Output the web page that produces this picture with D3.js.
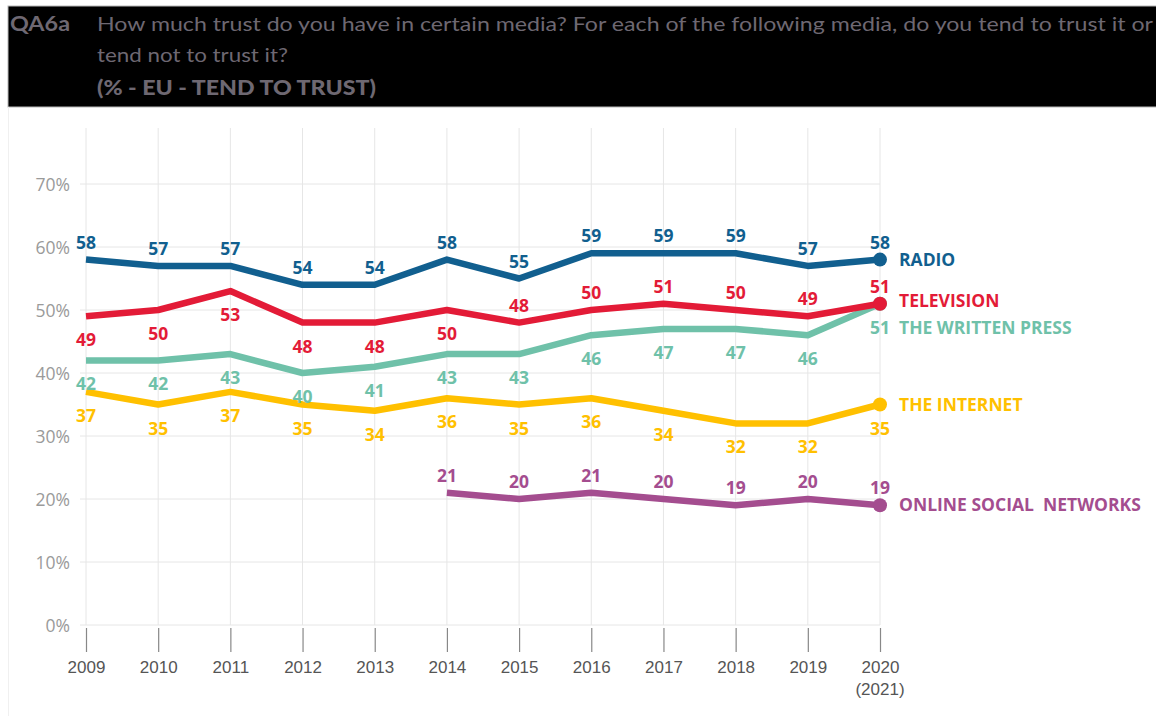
<!DOCTYPE html>
<html>
<head>
<meta charset="utf-8">
<script src="https://cdn.jsdelivr.net/npm/d3@7"></script>
<style>
  html, body { margin: 0; padding: 0; background: #fff; }
  svg { display: block; }
</style>
</head>
<body>
<svg id="chart" width="1156" height="716"></svg>
<script>
// Survey years on the x axis
const years = [2009, 2010, 2011, 2012, 2013, 2014, 2015, 2016, 2017, 2018, 2019, 2020];
const yearLabels = ["2009", "2010", "2011", "2012", "2013", "2014", "2015", "2016", "2017", "2018", "2019", "2020"];
const yTicks = [0, 10, 20, 30, 40, 50, 60, 70];

// % tend to trust, per medium (null = not asked that year)
const radio = [58, 57, 57, 54, 54, 58, 55, 59, 59, 59, 57, 58];
const television = [49, 50, 53, 48, 48, 50, 48, 50, 51, 50, 49, 51];
const writtenPress = [42, 42, 43, 40, 41, 43, 43, 46, 47, 47, 46, 51];
const internet = [37, 35, 37, 35, 34, 36, 35, 36, 34, 32, 32, 35];
const socialNetworks = [null, null, null, null, null, 21, 20, 21, 20, 19, 20, 19];

// Which side of the line each value label sits on ("a" above, "b" below)
const radioSide = ["a","a","a","a","a","a","a","a","a","a","a","a"];
const televisionSide = ["b","b","b","b","b","b","a","a","a","a","a","a"];
const pressSide = ["b","b","b","b","b","b","b","b","b","b","b","b"];
const internetSide = ["b","b","b","b","b","b","b","b","b","b","b","b"];
const socialSide = ["a","a","a","a","a","a","a","a","a","a","a","a"];

const series = [
  { name: "THE INTERNET", values: internet, side: internetSide, color: "#ffc000", nameDy: 6 },
  { name: "THE WRITTEN PRESS", values: writtenPress, side: pressSide, color: "#6fc1a9", nameDy: 30 },
  { name: "TELEVISION", values: television, side: televisionSide, color: "#e31b37", nameDy: 3 },
  { name: "RADIO", values: radio, side: radioSide, color: "#115f8f", nameDy: 6 },
  { name: "ONLINE SOCIAL  NETWORKS", values: socialNetworks, side: socialSide, color: "#a44d8f", nameDy: 6 }
];

const svg = d3.select("#chart");

// ---- Question header ----
svg.append("rect").attr("x", 8).attr("y", 6).attr("width", 1160).attr("height", 101)
  .attr("fill", "#000").attr("stroke", "#b8b8b8").attr("stroke-width", 1);
svg.append("line").attr("x1", 8.5).attr("x2", 8.5).attr("y1", 107).attr("y2", 716)
  .attr("stroke", "#f0f0f0");

const headFont = "Lato, 'Open Sans', sans-serif";
const headColor = "#6e6872";
svg.append("text").attr("x", 10).attr("y", 31).attr("font-family", headFont)
  .attr("font-size", 20).attr("font-weight", "bold").attr("fill", headColor)
  .attr("textLength", 60).attr("lengthAdjust", "spacingAndGlyphs").text("QA6a");
const headLines = [
  { t: "How much trust do you have in certain media? For each of the following media, do you tend to trust it or", y: 31, b: false, w: 1056 },
  { t: "tend not to trust it?", y: 62, b: false, w: 191 },
  { t: "(% - EU - TEND TO TRUST)", y: 95, b: true, w: 279 }
];
headLines.forEach(l => {
  svg.append("text").attr("x", 97).attr("y", l.y).attr("font-family", headFont)
    .attr("font-size", 20).attr("font-weight", l.b ? 900 : "normal").attr("fill", headColor)
    .attr("textLength", l.w).attr("lengthAdjust", "spacingAndGlyphs").text(l.t);
});

// ---- Scales ----
const x = d3.scalePoint().domain(years).range([86, 880]);
const y = d3.scaleLinear().domain([0, 70]).range([625, 184]);

// gridlines
const grid = svg.append("g");
grid.selectAll("line.v").data(years).enter().append("line")
  .attr("x1", d => x(d)).attr("x2", d => x(d)).attr("y1", 128).attr("y2", 625)
  .attr("stroke", "#e6e6e6").attr("stroke-width", 1);
grid.selectAll("line.h").data(yTicks).enter().append("line")
  .attr("x1", 80).attr("x2", 880).attr("y1", d => y(d)).attr("y2", d => y(d))
  .attr("stroke", "#e6e6e6").attr("stroke-width", 1);

// y axis
const yAxis = svg.append("g").attr("transform", "translate(80,0)")
  .call(d3.axisLeft(y).tickValues(yTicks).tickSize(0).tickPadding(10).tickFormat(d => d + "%"));
yAxis.select(".domain").remove();
yAxis.selectAll("text").attr("font-family", "'Open Sans', sans-serif").attr("font-size", 17.5)
  .attr("fill", "#9a9a9a").attr("dy", "0.36em");

// x axis
const xAxis = svg.append("g").attr("transform", "translate(0,628)")
  .call(d3.axisBottom(x).tickSize(24).tickPadding(9).tickFormat((d, i) => yearLabels[i]));
xAxis.select(".domain").remove();
xAxis.selectAll(".tick line").attr("stroke", "#888").attr("stroke-width", 1.2);
xAxis.selectAll("text").attr("font-family", "'Liberation Sans', Arial, sans-serif")
  .attr("font-size", 17).attr("fill", "#555");
xAxis.append("text").attr("x", x(2020)).attr("y", 67).attr("text-anchor", "middle")
  .attr("font-family", "'Liberation Sans', Arial, sans-serif").attr("font-size", 17)
  .attr("fill", "#555").text("(2021)");

// ---- Lines ----
const line = d3.line()
  .defined(d => d.v !== null)
  .x(d => x(d.year)).y(d => y(d.v));

const labelFont = "'Open Sans', sans-serif";
series.forEach(s => {
  const pts = years.map((yr, i) => ({ year: yr, v: s.values[i], side: s.side[i] }));
  const g = svg.append("g");
  g.append("path").datum(pts).attr("d", line).attr("fill", "none")
    .attr("stroke", s.color).attr("stroke-width", 6.5).attr("stroke-linejoin", "round");
  const last = pts[pts.length - 1];
  g.append("circle").attr("cx", x(last.year)).attr("cy", y(last.v)).attr("r", 7).attr("fill", s.color);
});

// value labels on top
series.forEach(s => {
  const pts = years.map((yr, i) => ({ year: yr, v: s.values[i], side: s.side[i] })).filter(d => d.v !== null);
  svg.append("g").selectAll("text").data(pts).enter().append("text")
    .attr("x", d => x(d.year))
    .attr("y", d => y(d.v) + (d.side === "a" ? -11 : 30))
    .attr("text-anchor", "middle").attr("font-family", labelFont).attr("font-weight", "bold")
    .attr("font-size", 17.5).attr("fill", s.color).text(d => d.v);
});

// series names at line ends
series.forEach(s => {
  const v = s.values[s.values.length - 1];
  svg.append("text").attr("x", 899).attr("y", y(v) + s.nameDy)
    .attr("font-family", labelFont).attr("font-weight", "bold").attr("font-size", 17.5)
    .attr("fill", s.color).style("white-space", "pre").text(s.name);
});
</script>
</body>
</html>
